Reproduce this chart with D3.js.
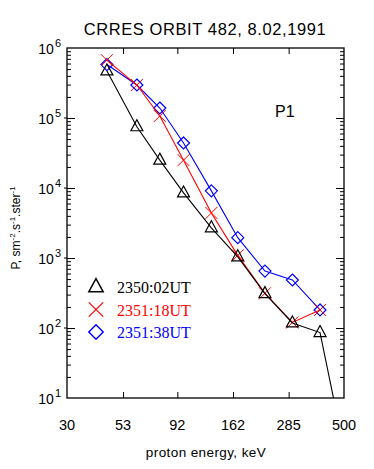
<!DOCTYPE html>
<html>
<head>
<meta charset="utf-8">
<title>crres orbit 482</title>
<style>
  body { margin: 0; background: #fff; }
  text { font-family: "Liberation Sans", "DejaVu Sans", sans-serif; }
  text.leg { font-family: "Liberation Serif", "DejaVu Serif", serif; }
</style>
</head>
<body>
<script src="https://cdn.jsdelivr.net/npm/d3@7"></script>
<svg width="374" height="469" id="mainsvg"></svg>
<script>
// energies (keV) of the channels and the flux for each time
const energy = [45, 61, 77, 98, 130, 170, 224, 296, 392, 517];
const flux0202 = [4.7e5, 7.5e4, 2.5e4, 8.5e3, 2.7e3, 1.04e3, 310, 118, 86, 1.1];
const flux1118 = [6.7e5, 2.96e5, 1.07e5, 2.5e4, 4.4e3, 1.09e3, 313, 120, 181];
const flux1338 = [5.8e5, 2.96e5, 1.39e5, 4.4e4, 9.1e3, 1.95e3, 650, 485, 181];
const seriesNames = ['2350:02UT', '2351:18UT', '2351:38UT'];
const xTicks = [30, 53, 92, 162, 285, 500];
const yTicks = [10, 1e2, 1e3, 1e4, 1e5, 1e6];

const svg = d3.select('#mainsvg');
const L = 67, R = 344, T = 48, B = 398;

const x = d3.scaleLog().domain([30, 500]).range([L, R]);
const y = d3.scaleLog().domain([10, 1e6]).range([B, T]);

// title
svg.append('text').attr('x', 205).attr('y', 35).attr('text-anchor', 'middle')
    .attr('font-size', 16.5).attr('letter-spacing', 0.6).text('CRRES ORBIT 482, 8.02,1991');

// clip for data
svg.append('clipPath').attr('id', 'clip').append('rect')
    .attr('x', L).attr('y', T).attr('width', R - L).attr('height', B - T);

// frame
svg.append('rect').attr('x', L).attr('y', T).attr('width', R - L).attr('height', B - T)
    .attr('fill', 'none').attr('stroke', '#000').attr('stroke-width', 1.3);

// x ticks top and bottom (inner ones)
const xin = xTicks.slice(1, -1);
svg.append('g').attr('transform', `translate(0,${B})`)
    .call(d3.axisBottom(x).tickValues(xin).tickSizeInner(-6).tickSizeOuter(0).tickFormat(''))
    .call(g => g.select('.domain').remove());
svg.append('g').attr('transform', `translate(0,${T})`)
    .call(d3.axisTop(x).tickValues(xin).tickSizeInner(-6).tickSizeOuter(0).tickFormat(''))
    .call(g => g.select('.domain').remove());

// x tick labels
svg.append('g').selectAll('text').data(xTicks).join('text')
    .attr('x', d => x(d)).attr('y', 430).attr('text-anchor', 'middle')
    .attr('font-size', 14.5).text(d => d);

svg.append('text').attr('x', 206).attr('y', 457).attr('text-anchor', 'middle')
    .attr('font-size', 13.5).attr('letter-spacing', 0.4).text('proton energy, keV');

// y minor + major ticks on both sides
const yMinor = [];
for (let e = 1; e < 6; e++) for (let m = 2; m <= 9; m++) yMinor.push(m * Math.pow(10, e));
const yMajorIn = yTicks.slice(1, -1);
svg.append('g').attr('transform', `translate(${L},0)`)
    .call(d3.axisLeft(y).tickValues(yMinor).tickSizeInner(-4).tickSizeOuter(0).tickFormat(''))
    .call(g => g.select('.domain').remove());
svg.append('g').attr('transform', `translate(${L},0)`)
    .call(d3.axisLeft(y).tickValues(yMajorIn).tickSizeInner(-8).tickSizeOuter(0).tickFormat(''))
    .call(g => g.select('.domain').remove());
svg.append('g').attr('transform', `translate(${R},0)`)
    .call(d3.axisRight(y).tickValues(yMinor).tickSizeInner(-4).tickSizeOuter(0).tickFormat(''))
    .call(g => g.select('.domain').remove());
svg.append('g').attr('transform', `translate(${R},0)`)
    .call(d3.axisRight(y).tickValues(yMajorIn).tickSizeInner(-8).tickSizeOuter(0).tickFormat(''))
    .call(g => g.select('.domain').remove());
// small outward stubs at major left ticks
svg.append('g').selectAll('line').data(yMajorIn).join('line')
    .attr('x1', L - 3).attr('x2', L).attr('y1', d => y(d)).attr('y2', d => y(d))
    .attr('stroke', '#000');

// y tick labels 10^n
const yl = svg.append('g').selectAll('text').data(yTicks).join('text')
    .attr('x', 61).attr('y', d => y(d) + 6).attr('text-anchor', 'end').attr('font-size', 14);
yl.append('tspan').text('10');
yl.append('tspan').attr('font-size', 11).attr('dy', -7).attr('dx', 1)
    .text(d => Math.round(Math.log10(d)));

// y axis label
const ylab = svg.append('text').attr('transform', 'translate(20,228) rotate(-90)')
    .attr('text-anchor', 'middle').attr('font-size', 12);
ylab.append('tspan').text('P, sm');
ylab.append('tspan').attr('font-size', 8).attr('dy', -5).text('-2');
ylab.append('tspan').attr('dy', 5).text('.s');
ylab.append('tspan').attr('font-size', 8).attr('dy', -5).text('-1');
ylab.append('tspan').attr('dy', 5).text('.ster');
ylab.append('tspan').attr('font-size', 8).attr('dy', -5).text('-1');

svg.append('text').attr('x', 275).attr('y', 117).attr('font-size', 16).text('P1');

// series
const series = [
    { name: seriesNames[2], vals: flux1338, color: '#0000ff', sym: 'diamond' },
    { name: seriesNames[1], vals: flux1118, color: '#ff0000', sym: 'cross' },
    { name: seriesNames[0], vals: flux0202, color: '#000000', sym: 'triangle' }
];

function marker(g, sym, color) {
    if (sym === 'triangle') {
        g.append('path').attr('d', 'M0,-7 L6,4 L-6,4 Z').attr('fill', 'none')
            .attr('stroke', color).attr('stroke-width', 1.2);
    } else if (sym === 'cross') {
        g.append('path').attr('d', 'M-6,-6 L6,6 M-6,6 L6,-6').attr('fill', 'none')
            .attr('stroke', color).attr('stroke-width', 1);
    } else {
        g.append('path').attr('d', 'M0,-6 L6,0 L0,6 L-6,0 Z').attr('fill', 'none')
            .attr('stroke', color).attr('stroke-width', 1.2);
    }
}

const plot = svg.append('g').attr('clip-path', 'url(#clip)');
const line = d3.line().x(d => x(d[0])).y(d => y(d[1]));
series.forEach(s => {
    const pts = s.vals.map((v, i) => [energy[i], v]);
    plot.append('path').attr('d', line(pts)).attr('fill', 'none')
        .attr('stroke', s.color).attr('stroke-width', 1.1);
    pts.forEach(p => {
        if (y(p[1]) > B) return;
        const g = plot.append('g').attr('transform', `translate(${x(p[0])},${y(p[1])})`);
        marker(g, s.sym, s.color);
    });
});

// legend
const legend = [
    { name: seriesNames[0], color: '#000000', sym: 'triangle' },
    { name: seriesNames[1], color: '#ff0000', sym: 'cross' },
    { name: seriesNames[2], color: '#0000ff', sym: 'diamond' }
];
legend.forEach((s, i) => {
    const cy = 287 + i * 22.5;
    const g = svg.append('g').attr('transform', `translate(96,${cy})`);
    g.append('g').attr('transform', 'scale(1.2)').call(gg => marker(gg, s.sym, s.color));
    svg.append('text').attr('class', 'leg').attr('x', 117).attr('y', cy + 6).attr('fill', s.color)
        .attr('font-size', 16).text(s.name);
});
</script>
</body>
</html>
